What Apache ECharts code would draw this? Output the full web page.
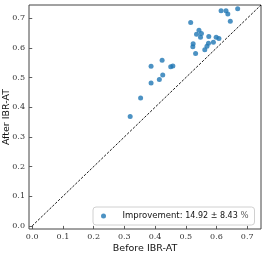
<!DOCTYPE html>
<html>
<head>
<meta charset="utf-8">
<script src="https://cdn.jsdelivr.net/npm/echarts@6/dist/echarts.min.js"></script>
<style>html,body{margin:0;padding:0;background:#fff;}#c{width:266px;height:257px;}</style>
</head>
<body>
<div id="c"></div>
<script>
var beforeVals = [0.615,0.631,0.637,0.669,0.645,0.516,0.543,0.551,0.535,0.548,0.575,0.599,0.608,0.590,0.574,0.524,0.523,0.569,0.562,0.532,0.423,0.387,0.451,0.458,0.425,0.414,0.387,0.353,0.319];
var afterVals  = [0.726,0.726,0.715,0.732,0.690,0.686,0.660,0.649,0.646,0.636,0.639,0.636,0.632,0.619,0.616,0.614,0.604,0.606,0.594,0.581,0.559,0.538,0.537,0.539,0.509,0.494,0.482,0.431,0.369];
var tickValues = [0, 0.1, 0.2, 0.3, 0.4, 0.5, 0.6, 0.7];
var diagonalEnds = [0, 0.745];
var improvementMean = '14.92';
var improvementStd = '8.43';
var seriesName = 'Improvement: ' + improvementMean + ' \u00b1 ' + improvementStd + ' %';
var xTitle = 'Before IBR-AT';
var yTitle = 'After IBR-AT';

var points = beforeVals.map(function(v, i){ return [v, afterVals[i]]; });
var diag = diagonalEnds.map(function(v){ return [v, v]; });

var tickFont = {fontFamily: 'DejaVu Serif', fontSize: 8, color: '#333'};
function axis(name, gap) {
  return {
    type: 'value', min: -0.0105, max: 0.745,
    name: name, nameLocation: 'middle', nameGap: gap, nameMoveOverlap: false,
    nameTextStyle: {fontFamily: 'DejaVu Sans', fontSize: 9.5, color: '#111'},
    axisLine: {show: false},
    splitLine: {show: false},
    axisTick: {show: true, customValues: tickValues, length: 3, lineStyle: {color: '#333', width: 0.8}},
    axisLabel: Object.assign({customValues: tickValues, margin: 4, formatter: function(v){ return v.toFixed(1); }}, tickFont)
  };
}
var chart = echarts.init(document.getElementById('c'), null, {renderer: 'canvas'});
chart.setOption({
  animation: false,
  grid: {left: 29, top: 5, right: 5, bottom: 28, containLabel: false, outerBoundsMode: 'none', show: true, borderColor: '#444', borderWidth: 1, backgroundColor: 'transparent'},
  xAxis: axis(xTitle, 15),
  yAxis: axis(yTitle, 17),
  legend: {
    data: [{name: seriesName, icon: 'circle'}],
    left: 93, top: 207,
    padding: [4, 6, 4, 8],
    itemWidth: 14, itemHeight: 5,
    borderColor: '#d0d0d0', borderWidth: 1, borderRadius: 3,
    backgroundColor: '#fff',
    formatter: function(){
      return '{a|Improvement:} {n|' + improvementMean + ' \u00b1 ' + improvementStd + '} {p|%}';
    },
    textStyle: {
      fontFamily: 'DejaVu Sans', fontSize: 8.5, color: '#111', padding: [0, 0, 0, 7], lineHeight: 10,
      rich: {
        a: {fontFamily: 'DejaVu Sans', fontSize: 8.5, color: '#111', lineHeight: 10},
        n: {fontFamily: 'DejaVu Sans', fontSize: 8, color: '#111', lineHeight: 10},
        p: {fontFamily: 'DejaVu Serif', fontSize: 8.5, color: '#555', lineHeight: 10}
      }
    }
  },
  series: [
    {
      type: 'line', data: diag, symbol: 'none', silent: true,
      lineStyle: {color: '#000', width: 0.9, type: [2.5, 1.5]}
    },
    {
      name: seriesName, type: 'scatter', data: points,
      symbol: 'circle', symbolSize: 5,
      itemStyle: {color: '#1f77b4'}
    }
  ]
});
</script>
</body>
</html>
